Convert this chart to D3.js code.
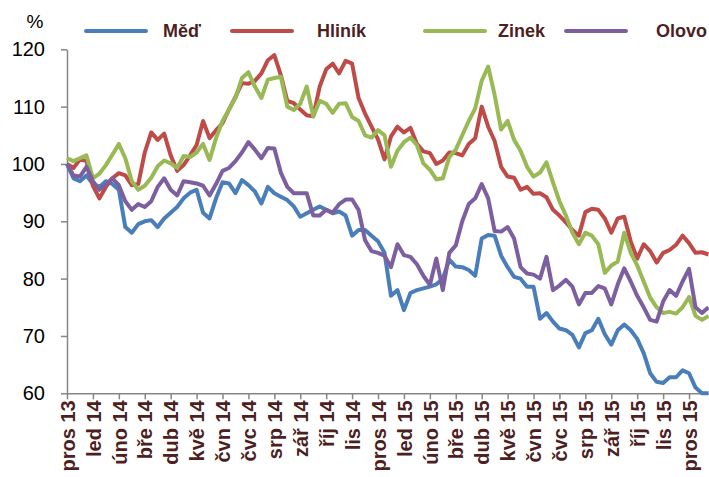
<!DOCTYPE html>
<html>
<head>
<meta charset="utf-8">
<script src="https://cdn.jsdelivr.net/npm/d3@7"></script>
<style>
  body { margin: 0; background: #fff; }
  svg { display: block; font-family: "Liberation Sans", Arial, sans-serif; }
</style>
</head>
<body>
<div id="chart"></div>
<script>
// month labels (one tick per month)
var months = ["pros 13", "led 14", "úno 14", "bře 14", "dub 14", "kvě 14", "čvn 14", "čvc 14",
  "srp 14", "zář 14", "říj 14", "lis 14", "pros 14", "led 15", "úno 15", "bře 15", "dub 15",
  "kvě 15", "čvn 15", "čvc 15", "srp 15", "zář 15", "říj 15", "lis 15", "pros 15"];

var yTicks = [60, 70, 80, 90, 100, 110, 120];

// weekly values (4 per month), index 100 = start
var med = [
  100, 97.5, 97, 98, 96.5, 96, 97, 96.5, 95.5, 89, 88, 89.5, 90, 90.2, 89, 90.5,
  91.5, 92.5, 94, 95, 95.5, 91.5, 90.5, 94, 96.8, 96.6, 94.9, 97.2, 96.3, 95.2, 93.1, 96,
  94.9, 94.3, 93.7, 92.6, 90.8, 91.4, 92, 92.6, 92, 91.4, 91.7, 91, 87.5, 88.5, 88.5, 87.5,
  86.5, 84.5, 77, 78, 74.5, 77.5, 78, 78.3, 78.6, 79, 80, 83.3, 82.1, 82, 81.5, 80.5,
  87, 87.6, 87.5, 84, 82, 80.3, 80, 78.6, 78.6, 73, 74, 72.5, 71.3, 71, 70.2, 68,
  70.5, 71, 73, 70.3, 68.5, 71, 72, 71, 69.5, 67, 63.5, 62, 61.8, 62.8, 62.8, 64,
  63.5, 61, 60, 60
];
var hlinik = [
  100, 99.3, 100.8, 100.5, 96.2, 94, 96, 97.5, 98.4, 98, 96.3, 96.5, 102, 105.5, 104.2, 105.3,
  101.5, 98.8, 99.8, 101.5, 103.3, 107.5, 104.5, 105.9, 107.1, 109.5, 111.7, 114.1, 114, 114.5, 115.8, 118.1,
  119, 115.5, 111, 110.6, 109.5, 108.5, 108.3, 113.5, 116.5, 117.5, 115.8, 118, 117.5, 111.5, 108.8, 106.5,
  104.3, 100.8, 104.8, 106.5, 105.5, 106.3, 103.5, 102.2, 101.9, 100, 100.6, 102, 101.9, 101.5, 103.5, 104.5,
  110, 106.5, 104, 99.5, 97.8, 97.6, 95.5, 96, 94.8, 94.9, 94.2, 92, 91, 89.8, 88.5, 87.5,
  91.6, 92.2, 92, 90.5, 88, 90.5, 90.8, 86.5, 83.5, 86, 84.8, 82.8, 84.5, 85, 85.9, 87.5,
  86.2, 84.5, 84.6, 84.2
];
var zinek = [
  101, 100.5, 101, 101.5, 97.5, 98.3, 99.8, 101.6, 103.5, 101, 97, 95.5, 96.2, 97.6, 99.6, 100.6,
  100.1, 99.3, 101.4, 101.2, 102, 103.5, 100.7, 104.5, 107.5, 109.5, 111.5, 115, 116, 113.5, 111.5, 114.7,
  115, 115.2, 110, 109.4, 110.5, 113.5, 108.3, 111, 110.5, 108.9, 110.5, 110.6, 108.2, 107.5, 105, 104.6,
  105.9, 105, 99.5, 102.3, 103.8, 104.6, 103.3, 100.1, 99, 97.3, 97.5, 101.2, 102.5, 105, 107.5, 109.7,
  114.5, 117, 112, 106, 107.5, 104.2, 102.3, 99.5, 97.8, 98.5, 100.3, 96.8, 93.5, 91, 88, 86,
  88, 87.5, 86, 81, 82.3, 83, 88, 84.5, 82.3, 79.5, 76.7, 75, 74, 74.2, 73.9, 75,
  76.8, 73.5, 72.8, 73.5
];
var olovo = [
  100, 98, 97.8, 99.5, 97, 95.5, 96.4, 97.5, 96.3, 93.5, 92, 93, 92.5, 93.5, 96, 97.5,
  95.5, 94.5, 97, 96.8, 96.6, 96.2, 94.5, 96.5, 98.8, 99.3, 100.5, 102, 103.8, 102.5, 101, 102.8,
  102.7, 98.5, 96, 94.9, 94.9, 94.9, 91, 91, 92, 91.5, 93, 93.8, 93.8, 92, 86.7, 84.8,
  84.5, 84, 82, 86, 84.1, 83.8, 82.5, 80.5, 78.9, 83.5, 78, 84.5, 85.8, 90, 93, 94,
  96.5, 94, 88.3, 88.2, 89, 87, 82, 80.9, 80.7, 80, 83.8, 78, 78.8, 79.8, 78.6, 75.5,
  77.5, 77.5, 78.7, 78.3, 75.5, 79, 81.8, 79.5, 77, 75, 72.8, 72.5, 76, 78, 77, 79.5,
  81.7, 75, 74, 75
];

var series = [
  {name: "Měď", values: med, color: "#4a7ebb"},
  {name: "Hliník", values: hlinik, color: "#be4b48"},
  {name: "Zinek", values: zinek, color: "#98b954"},
  {name: "Olovo", values: olovo, color: "#7d5fa0"}
];

var w = 709, h = 477;
var plotLeft = 67, plotRight = 709, plotTop = 49.3, plotBottom = 393.3;
var axisColor = "#868686", labelColor = "#4d1f1f";

var svg = d3.select("#chart").append("svg")
  .attr("width", w)
  .attr("height", h);

var x = d3.scaleLinear().domain([0, 24.77]).range([plotLeft, plotRight]);
var y = d3.scaleLinear().domain([60, 120]).range([plotBottom, plotTop]);

// y axis
var yAxis = svg.append("g")
  .attr("transform", "translate(" + plotLeft + ",0)")
  .call(d3.axisLeft(y).tickValues(yTicks).tickSize(6).tickSizeOuter(0).tickPadding(16));
yAxis.select(".domain").attr("stroke", axisColor).attr("stroke-width", 1.5);
yAxis.selectAll(".tick line").attr("stroke", axisColor).attr("stroke-width", 1.5);
yAxis.selectAll(".tick text")
  .attr("fill", "#000")
  .style("font-size", "20px");

// x axis
var xAxis = svg.append("g")
  .attr("transform", "translate(0," + plotBottom + ")")
  .call(d3.axisBottom(x).tickValues(d3.range(months.length)).tickSize(6).tickSizeOuter(0)
    .tickFormat(function (d) { return months[d]; }));
xAxis.select(".domain").attr("stroke", axisColor).attr("stroke-width", 1.5);
xAxis.selectAll(".tick line").attr("stroke", axisColor).attr("stroke-width", 1.5);
xAxis.selectAll(".tick text")
  .attr("fill", labelColor)
  .attr("text-anchor", "end")
  .attr("transform", "rotate(-90)")
  .attr("x", -7)
  .attr("y", 0)
  .attr("dy", "0.36em")
  .style("font-size", "20px")
  .style("font-weight", "bold");

// % label
svg.append("text")
  .attr("x", 35)
  .attr("y", 28)
  .attr("text-anchor", "middle")
  .style("font-size", "19px")
  .attr("fill", "#000")
  .text("%");

// lines
var line = d3.line()
  .x(function (d, i) { return x(i / 4); })
  .y(function (d) { return y(d); });

svg.append("g")
  .selectAll("path")
  .data(series)
  .enter().append("path")
  .attr("fill", "none")
  .attr("stroke", function (d) { return d.color; })
  .attr("stroke-width", 4)
  .attr("stroke-linejoin", "round")
  .attr("d", function (d) { return line(d.values); });

// legend
var legendX = [86, 232, 425, 566];
var leg = svg.append("g")
  .selectAll("g")
  .data(series)
  .enter().append("g")
  .attr("transform", function (d, i) { return "translate(" + legendX[i] + ",31)"; });

leg.append("line")
  .attr("x1", 0).attr("x2", 60)
  .attr("stroke", function (d) { return d.color; })
  .attr("stroke-width", 4)
  .attr("stroke-linecap", "round");

leg.append("text")
  .attr("x", function (d, i) { return [77, 85, 73, 90][i]; })
  .attr("y", 6)
  .attr("fill", labelColor)
  .style("font-size", "18px")
  .style("font-weight", "bold")
  .text(function (d) { return d.name; });
</script>
</body>
</html>
